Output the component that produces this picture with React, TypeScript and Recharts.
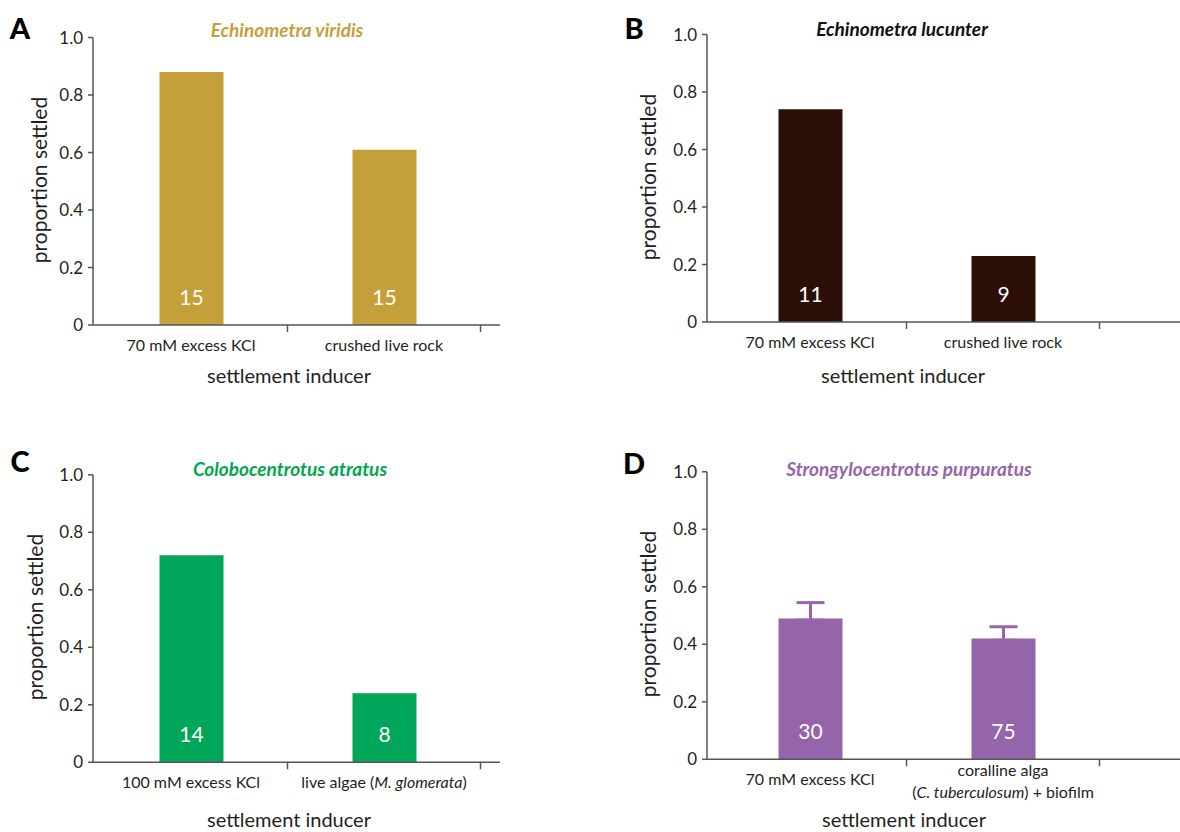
import React from 'react';
import { BarChart, Bar, XAxis, YAxis, ErrorBar, LabelList } from 'recharts';

const FONT = 'Lato, "Open Sans", sans-serif';
const INK = '#231f20';
const AXIS = '#555555';

// settlement inducers (x categories); *...* marks italic text
const inducersA = ['70 mM excess KCl', 'crushed live rock'];
const inducersB = ['70 mM excess KCl', 'crushed live rock'];
const inducersC = ['100 mM excess KCl', 'live algae (*M. glomerata*)'];
const inducersD = ['70 mM excess KCl', 'coralline alga\n(*C. tuberculosum*) + biofilm'];

// proportion settled
const settledA = [0.88, 0.61];
const settledB = [0.74, 0.23];
const settledC = [0.72, 0.24];
const settledD = [0.49, 0.42];
const errorD = [0.055, 0.041];

// number printed in each bar
const countA = [15, 15];
const countB = [11, 9];
const countC = [14, 8];
const countD = [30, 75];

const yTicks = [0, 0.2, 0.4, 0.6, 0.8, 1.0];

const BAND = 193;

// lower whisker tucked just inside the bar top so its cap stays hidden
const rows = (cats: string[], vals: number[], ns: number[], errs?: number[]) =>
  cats.map((c, i) => ({
    inducer: c,
    settled: vals[i],
    n: ns[i],
    err: errs ? [0.006, errs[i]] : undefined,
  }));

const panels = [
  {
    letter: 'A', title: 'Echinometra viridis', titleColor: '#c5a03a', color: '#c5a03a',
    data: rows(inducersA, settledA, countA),
    box: { x: 0, y: 0, w: 590, h: 400 },
    frame: { left: 93, top: 37.5, bottom: 325, right: 500, padL: 1.5, padR: 19.5 },
    letterPos: [20, 27], titlePos: [287, 29], yLabelPos: [38, 180], xLabelPos: [289, 375],
  },
  {
    letter: 'B', title: 'Echinometra lucunter', titleColor: '#111111', color: '#2b0e06',
    data: rows(inducersB, settledB, countB),
    box: { x: 590, y: 0, w: 590, h: 400 },
    frame: { left: 117, top: 34.5, bottom: 322, right: 590, padL: 6.5, padR: 80.5 },
    letterPos: [44, 27], titlePos: [312, 28], yLabelPos: [57, 177], xLabelPos: [313, 375],
  },
  {
    letter: 'C', title: 'Colobocentrotus atratus', titleColor: '#00a651', color: '#00a65a',
    data: rows(inducersC, settledC, countC),
    box: { x: 0, y: 430, w: 590, h: 402 },
    frame: { left: 93, top: 44.8, bottom: 332.3, right: 500, padL: 1.5, padR: 19.5 },
    letterPos: [20, 30], titlePos: [290, 38], yLabelPos: [34, 187], xLabelPos: [289, 389],
  },
  {
    letter: 'D', title: 'Strongylocentrotus purpuratus', titleColor: '#9565ab', color: '#9565ab',
    data: rows(inducersD, settledD, countD, errorD),
    box: { x: 590, y: 430, w: 590, h: 402 },
    frame: { left: 117, top: 41.8, bottom: 329.3, right: 590, padL: 6.5, padR: 80.5 },
    letterPos: [44, 32], titlePos: [319, 38], yLabelPos: [57, 184], xLabelPos: [314, 389],
  },
];

function italicParts(line: string) {
  return line
    .split('*')
    .map((text, i) => ({ text, italic: i % 2 === 1 }))
    .filter((p) => p.text);
}

function InducerTick(props: any) {
  const { x, y, payload } = props;
  const lines = String(payload.value).split('\n');
  const first = lines.length === 1 ? 26 : 17;
  return (
    <g>
      <line x1={x + BAND / 2} x2={x + BAND / 2} y1={y} y2={y + 7} stroke={AXIS} strokeWidth={1.5} />
      <text textAnchor="middle" fontSize={16} fill={INK} fontFamily={FONT}>
        {lines.map((ln, li) => (
          <tspan key={li} x={x} y={y + first + li * 22}>
            {italicParts(ln).map((p, pi) => (
              <tspan key={pi} fontStyle={p.italic ? 'italic' : 'normal'}>{p.text}</tspan>
            ))}
          </tspan>
        ))}
      </text>
    </g>
  );
}

const renderCount = (props: any) => {
  const { x, y, width, height, value } = props;
  return (
    <text x={x + width / 2} y={y + height - 20.5} textAnchor="middle" fill="#ffffff" fontSize={21} fontFamily={FONT}>
      {value}
    </text>
  );
};

const centered = (x: number, y: number, extra: React.CSSProperties = {}): React.CSSProperties => ({
  position: 'absolute',
  left: x,
  top: y,
  transform: 'translate(-50%, -50%)',
  whiteSpace: 'nowrap',
  fontFamily: FONT,
  lineHeight: 1,
  ...extra,
});

function Panel({ p }: { p: (typeof panels)[number] }) {
  const { box, frame } = p;
  return (
    <div style={{ position: 'absolute', left: box.x, top: box.y, width: box.w, height: box.h }}>
      <BarChart
        width={box.w}
        height={box.h}
        data={p.data}
        margin={{ top: frame.top, right: box.w - frame.right, bottom: box.h - frame.bottom - 30, left: frame.left - 60 }}
      >
        <XAxis
          dataKey="inducer"
          height={30}
          padding={{ left: frame.padL, right: frame.padR }}
          axisLine={{ stroke: AXIS, strokeWidth: 1.5 }}
          tickLine={false}
          tickSize={0}
          tickMargin={0}
          interval={0}
          tick={<InducerTick />}
        />
        <YAxis
          width={60}
          domain={[0, 1]}
          ticks={yTicks}
          interval={0}
          axisLine={{ stroke: AXIS, strokeWidth: 1.5 }}
          tickLine={{ stroke: AXIS, strokeWidth: 1.5 }}
          tickSize={5}
          tickMargin={5}
          tick={{ fontSize: 17, fill: INK, fontFamily: FONT }}
          tickFormatter={(v: number) => (v === 0 ? '0' : v.toFixed(1))}
        />
        <Bar dataKey="settled" fill={p.color} barSize={64} isAnimationActive={false}>
          {p.letter === 'D' && (
            <ErrorBar dataKey="err" width={14} stroke={p.color} strokeWidth={3} direction="y" />
          )}
          <LabelList dataKey="n" content={renderCount} />
        </Bar>
      </BarChart>
      <div style={centered(p.letterPos[0], p.letterPos[1], { fontSize: 29, fontWeight: 900, color: '#000' })}>{p.letter}</div>
      <div style={centered(p.titlePos[0], p.titlePos[1], { fontSize: 19, fontWeight: 700, fontStyle: 'italic', color: p.titleColor })}>{p.title}</div>
      <div style={centered(p.yLabelPos[0], p.yLabelPos[1], { fontSize: 21, color: INK, transform: 'translate(-50%, -50%) rotate(-90deg)' })}>proportion settled</div>
      <div style={centered(p.xLabelPos[0], p.xLabelPos[1], { fontSize: 20, color: INK })}>settlement inducer</div>
    </div>
  );
}

export default function App() {
  return (
    <div style={{ position: 'absolute', left: 0, top: 0, width: 1180, height: 832, background: '#fff', overflow: 'hidden' }}>
      {panels.map((p) => (
        <Panel key={p.letter} p={p} />
      ))}
    </div>
  );
}
